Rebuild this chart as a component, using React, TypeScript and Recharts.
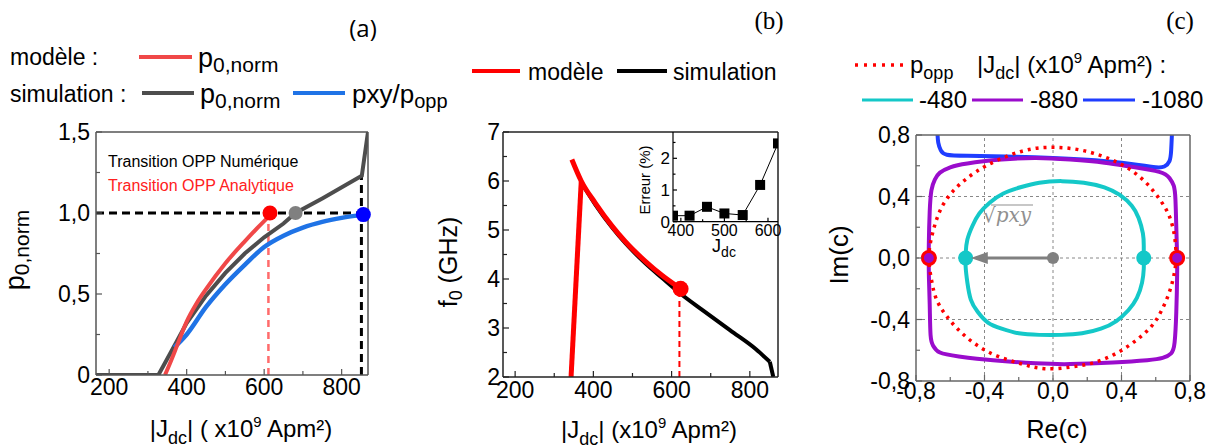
import React from "react";
import { ComposedChart, Line, XAxis, YAxis, ReferenceLine, ReferenceDot } from "recharts";

const FONT = "'Liberation Sans', Arial, sans-serif";

// (a) normalised power vs |Jdc|
const aModelJ = [344, 360, 375, 400, 425, 450, 500, 550, 600, 615];
const aModelP = [0, 0.09, 0.18, 0.33, 0.44, 0.53, 0.69, 0.825, 0.95, 0.985];
const aSimJ = [166, 327, 350, 375, 400, 450, 500, 550, 600, 650, 681, 750, 852, 868];
const aSimP = [0, 0, 0.1, 0.21, 0.32, 0.49, 0.63, 0.75, 0.85, 0.935, 1.0, 1.09, 1.23, 1.5];
const aPxyJ = [368, 400, 450, 500, 550, 600, 650, 700, 750, 800, 856];
const aPxyP = [0.17, 0.25, 0.42, 0.56, 0.68, 0.79, 0.86, 0.91, 0.945, 0.97, 0.99];
const aOppJ = [615, 681, 856]; // model, simulation, pxy/popp
const aOppP = [1.0, 1.0, 0.99];
const aModelCutJ = 611;
const aSimCornerJ = 851;
const aSimCornerP = 1.23;

// (b) frequency vs |Jdc|
const bRiseJ = [343, 369];
const bRiseF = [2, 5.99];
const bModelJ = [345, 369, 405, 448, 482, 533, 576, 623];
const bModelF = [6.44, 6.0, 5.55, 5.08, 4.76, 4.36, 4.07, 3.8];
const bSimJ = [369, 405, 448, 482, 533, 576, 623, 680, 750, 815, 851];
const bSimF = [5.97, 5.52, 5.05, 4.73, 4.32, 4.02, 3.7, 3.36, 2.95, 2.57, 2.31];
const bTailJ = [851, 860];
const bTailF = [2.31, 2.0];
const bOppJ = 623;
const bOppF = 3.8;
// inset: error (%)
const errJ = [382, 420, 460, 500, 542, 582, 623];
const errPct = [0.19, 0.19, 0.47, 0.26, 0.21, 1.16, 2.47];

// (c) orbits in the complex plane
const cOppRe = [0.72, 0.71, 0.68, 0.63, 0.56, 0.47, 0.36, 0.24, 0.12, 0.0, -0.12, -0.25, -0.39, -0.5, -0.58, -0.64, -0.68, -0.71, -0.725, -0.71, -0.68, -0.62, -0.54, -0.44, -0.32, -0.18, -0.05, 0.1, 0.24, 0.37, 0.48, 0.57, 0.63, 0.68, 0.71, 0.72];
const cOppIm = [0, 0.14, 0.27, 0.37, 0.47, 0.56, 0.63, 0.68, 0.71, 0.72, 0.71, 0.67, 0.6, 0.52, 0.44, 0.35, 0.25, 0.13, 0, -0.14, -0.27, -0.38, -0.48, -0.57, -0.64, -0.69, -0.72, -0.71, -0.68, -0.62, -0.54, -0.45, -0.35, -0.22, -0.09, 0];
const c480Re = [0.53, 0.53, 0.525, 0.5, 0.46, 0.39, 0.3, 0.18, 0.05, -0.08, -0.19, -0.29, -0.37, -0.43, -0.47, -0.5, -0.51, -0.51, -0.5, -0.48, -0.44, -0.38, -0.3, -0.2, -0.08, 0.05, 0.17, 0.28, 0.37, 0.44, 0.49, 0.52, 0.53, 0.53];
const c480Im = [0, 0.08, 0.16, 0.26, 0.34, 0.41, 0.46, 0.49, 0.5, 0.49, 0.46, 0.42, 0.36, 0.29, 0.21, 0.12, 0.03, -0.06, -0.16, -0.27, -0.35, -0.42, -0.46, -0.49, -0.5, -0.5, -0.49, -0.46, -0.41, -0.34, -0.26, -0.16, -0.07, 0];
const c880Re = [0.725, 0.72, 0.715, 0.705, 0.68, 0.62, 0.45, 0.3, 0.1, -0.1, -0.3, -0.5, -0.6, -0.66, -0.69, -0.71, -0.72, -0.725, -0.725, -0.72, -0.715, -0.7, -0.66, -0.55, -0.35, -0.1, 0.1, 0.35, 0.55, 0.64, 0.69, 0.71, 0.72, 0.725, 0.725];
const c880Im = [0, 0.2, 0.38, 0.47, 0.52, 0.56, 0.595, 0.62, 0.64, 0.65, 0.64, 0.615, 0.59, 0.555, 0.51, 0.44, 0.3, 0.1, -0.1, -0.3, -0.5, -0.57, -0.615, -0.64, -0.665, -0.685, -0.69, -0.68, -0.665, -0.65, -0.62, -0.55, -0.35, -0.1, 0];
const c1080Re = [-0.675, -0.67, -0.655, -0.62, -0.5, -0.27, 0, 0.31, 0.5, 0.6, 0.65, 0.68, 0.69, 0.695];
const c1080Im = [0.82, 0.75, 0.7, 0.672, 0.665, 0.66, 0.65, 0.63, 0.605, 0.59, 0.595, 0.63, 0.7, 0.82];
const cDotsCyanRe = [-0.51, 0.53];
const cDotsOppRe = [-0.725, 0.725];
const cArrowRe = [0, -0.45];
const cArrowIm = [0, 0];

// ticks
const jTicks = [200, 300, 400, 500, 600, 700, 800];
const jLabels = ["200", "", "400", "", "600", "", "800"];
const aPTicks = [0, 0.25, 0.5, 0.75, 1, 1.25, 1.5];
const aPLabels = ["0", "", "0,5", "", "1,0", "", "1,5"];
const bFTicks = [2, 2.5, 3, 3.5, 4, 4.5, 5, 5.5, 6, 6.5, 7];
const bFLabels = ["2", "", "3", "", "4", "", "5", "", "6", "", "7"];
const errJTicks = [400, 450, 500, 550, 600];
const errJLabels = ["400", "", "500", "", "600"];
const errTicks = [0, 0.5, 1, 1.5, 2, 2.5];
const errLabels = ["0", "", "1", "", "2", ""];
const cTicks = [-0.8, -0.6, -0.4, -0.2, 0, 0.2, 0.4, 0.6, 0.8];
const cLabels = ["-0,8", "", "-0,4", "", "0,0", "", "0,4", "", "0,8"];
const cGrid = [-0.4, 0, 0.4];

const TICK_FS = 23;

const pts = (xs: number[], ys: number[]) => xs.map((x, i) => ({ x, y: ys[i] }));

// inward ticks: major ones carry a label
function tickMaker(side: "bottom" | "left", gap: number, values: number[], labels: string[], fontSize: number, color: string, long = 6, short = 4) {
  return (p: any) => {
    const v = p.payload ? p.payload.value : NaN;
    const i = values.findIndex((t) => Math.abs(t - v) < 1e-6);
    const lab = i >= 0 ? labels[i] : "";
    const len = lab ? long : short;
    if (side === "bottom") {
      const ay = p.y - gap;
      return (
        <g>
          <line x1={p.x} x2={p.x} y1={ay} y2={ay - len} stroke={color} strokeWidth={1.2} />
          {lab ? (
            <text x={p.x} y={p.y} dy="0.72em" textAnchor="middle" fontSize={fontSize} fontFamily={FONT} fill="#000">
              {lab}
            </text>
          ) : null}
        </g>
      );
    }
    const ax = p.x + gap;
    return (
      <g>
        <line x1={ax} x2={ax + len} y1={p.y} y2={p.y} stroke={color} strokeWidth={1.2} />
        {lab ? (
          <text x={p.x} y={p.y} dy="0.36em" textAnchor="end" fontSize={fontSize} fontFamily={FONT} fill="#000">
            {lab}
          </text>
        ) : null}
      </g>
    );
  };
}

const square = (p: any) => <rect key={"sq" + p.index} x={p.cx - 5} y={p.cy - 5} width={10} height={10} fill="#000" />;

function JdcTitle({ x, y, size, spaced }: { x: number; y: number; size: number; spaced: boolean }) {
  return (
    <text x={x} y={y} fontSize={size} textAnchor="middle" fontFamily={FONT} fill="#000">
      |J
      <tspan fontSize={size * 0.75} dy={size * 0.28}>dc</tspan>
      <tspan fontSize={size} dy={-size * 0.28}>{spaced ? "| ( x10" : "| (x10"}</tspan>
      <tspan fontSize={size * 0.62} dy={-size * 0.42}>9</tspan>
      <tspan fontSize={size} dy={size * 0.42}>{" Apm²)"}</tspan>
    </text>
  );
}

// axes get a 1px band (a 0px axis is not drawn), margins are reduced by that 1px
function PanelA() {
  const ax = "#555";
  return (
    <ComposedChart width={400} height={446} margin={{ top: 131, right: 31, bottom: 70, left: 95 }}>
      <XAxis type="number" dataKey="x" domain={[166, 868]} allowDataOverflow ticks={jTicks} interval={0} height={1} tickSize={0} tickMargin={3} tickLine={false} axisLine={{ stroke: ax, strokeWidth: 1.5 }} tick={tickMaker("bottom", 3, jTicks, jLabels, TICK_FS, ax)} />
      <XAxis xAxisId="t" orientation="top" type="number" dataKey="x" domain={[166, 868]} height={1} tick={false} tickLine={false} axisLine={{ stroke: ax, strokeWidth: 1.5 }} />
      <YAxis type="number" domain={[0, 1.5]} allowDataOverflow ticks={aPTicks} interval={0} width={1} tickSize={0} tickMargin={6} tickLine={false} axisLine={{ stroke: ax, strokeWidth: 1.5 }} tick={tickMaker("left", 6, aPTicks, aPLabels, TICK_FS, ax)} />
      <YAxis yAxisId="r" orientation="right" type="number" domain={[0, 1.5]} width={1} tick={false} tickLine={false} axisLine={{ stroke: ax, strokeWidth: 1.5 }} />
      <ReferenceLine segment={[{ x: aModelCutJ, y: 0 }, { x: aModelCutJ, y: aOppP[0] }]} stroke="#ff6b6b" strokeWidth={2.5} strokeDasharray="7 5" />
      <ReferenceLine segment={[{ x: aSimCornerJ, y: 0 }, { x: aSimCornerJ, y: aSimCornerP }]} stroke="#000" strokeWidth={3} strokeDasharray="8 5" />
      <ReferenceLine segment={[{ x: 166, y: 1 }, { x: aOppJ[2], y: 1 }]} stroke="#000" strokeWidth={3} strokeDasharray="8 5" />
      <Line data={pts(aSimJ, aSimP)} dataKey="y" type="linear" stroke="#4d4d4d" strokeWidth={4} dot={false} activeDot={false} isAnimationActive={false} />
      <Line data={pts(aPxyJ, aPxyP)} dataKey="y" type="monotone" stroke="#1f73e6" strokeWidth={4.5} dot={false} activeDot={false} isAnimationActive={false} />
      <Line data={pts(aModelJ, aModelP)} dataKey="y" type="monotone" stroke="#f04848" strokeWidth={4} dot={false} activeDot={false} isAnimationActive={false} />
      <ReferenceDot x={aOppJ[0]} y={aOppP[0]} r={7.5} fill="#ff0000" stroke="none" />
      <ReferenceDot x={aOppJ[1]} y={aOppP[1]} r={7} fill="#808080" stroke="none" />
      <ReferenceDot x={aOppJ[2]} y={aOppP[2]} r={7.5} fill="#0000ff" stroke="none" />
    </ComposedChart>
  );
}

function PanelB() {
  const ax = "#222";
  return (
    <ComposedChart width={400} height={446} margin={{ top: 131, right: 21, bottom: 68, left: 102 }}>
      <XAxis type="number" dataKey="x" domain={[169, 872]} allowDataOverflow ticks={jTicks} interval={0} height={1} tickSize={0} tickMargin={4} tickLine={false} axisLine={{ stroke: ax, strokeWidth: 1.5 }} tick={tickMaker("bottom", 4, jTicks, jLabels, TICK_FS, ax)} />
      <XAxis xAxisId="t" orientation="top" type="number" dataKey="x" domain={[169, 872]} height={1} tick={false} tickLine={false} axisLine={{ stroke: ax, strokeWidth: 1.5 }} />
      <YAxis type="number" domain={[2, 7]} allowDataOverflow ticks={bFTicks} interval={0} width={1} tickSize={0} tickMargin={3} tickLine={false} axisLine={{ stroke: ax, strokeWidth: 1.5 }} tick={tickMaker("left", 3, bFTicks, bFLabels, TICK_FS, ax)} />
      <YAxis yAxisId="r" orientation="right" type="number" domain={[2, 7]} width={1} tick={false} tickLine={false} axisLine={{ stroke: ax, strokeWidth: 1.5 }} />
      <ReferenceLine segment={[{ x: bOppJ - 3, y: 2 }, { x: bOppJ - 3, y: bOppF }]} stroke="#ff0000" strokeWidth={2} strokeDasharray="6 4" />
      <Line data={pts(bSimJ, bSimF)} dataKey="y" type="monotone" stroke="#000" strokeWidth={4} dot={false} activeDot={false} isAnimationActive={false} />
      <Line data={pts(bTailJ, bTailF)} dataKey="y" type="linear" stroke="#000" strokeWidth={4} dot={false} activeDot={false} isAnimationActive={false} />
      <Line data={pts(bRiseJ, bRiseF)} dataKey="y" type="linear" stroke="#ff0000" strokeWidth={5} dot={false} activeDot={false} isAnimationActive={false} />
      <Line data={pts(bModelJ, bModelF)} dataKey="y" type="monotone" stroke="#ff0000" strokeWidth={5} dot={false} activeDot={false} isAnimationActive={false} />
      <ReferenceDot x={bOppJ} y={bOppF} r={8} fill="#ff0000" stroke="none" />
    </ComposedChart>
  );
}

function Inset() {
  const ax = "#000";
  return (
    <ComposedChart width={150} height={140} margin={{ top: 12, right: 12, bottom: 37.3, left: 32 }}>
      <XAxis type="number" dataKey="x" domain={[382, 623]} allowDataOverflow ticks={errJTicks} interval={0} height={1} tickSize={0} tickMargin={2.5} tickLine={false} axisLine={{ stroke: ax, strokeWidth: 1.2 }} tick={tickMaker("bottom", 2.5, errJTicks, errJLabels, 16, ax, 4, 2.5)} />
      <YAxis type="number" domain={[0, 2.83]} allowDataOverflow ticks={errTicks} interval={0} width={1} tickSize={0} tickMargin={3} tickLine={false} axisLine={{ stroke: ax, strokeWidth: 1.2 }} tick={tickMaker("left", 3, errTicks, errLabels, 17, ax, 4, 2.5)} />
      <Line data={pts(errJ, errPct)} dataKey="y" type="linear" stroke="#000" strokeWidth={1} dot={square} activeDot={false} isAnimationActive={false} />
    </ComposedChart>
  );
}

function PanelC() {
  const ax = "#666";
  const arrowHead = (p: any) => <polygon points={`${p.cx},${p.cy} ${p.cx + 17},${p.cy - 6} ${p.cx + 17},${p.cy + 6}`} fill="#808080" />;
  return (
    <ComposedChart width={400} height={446} margin={{ top: 134, right: 19, bottom: 64, left: 105 }}>
      <XAxis type="number" dataKey="x" domain={[-0.8, 0.8]} allowDataOverflow ticks={cTicks} interval={0} height={1} tickSize={0} tickMargin={1} tickLine={false} axisLine={{ stroke: ax, strokeWidth: 1.5 }} tick={tickMaker("bottom", 1, cTicks, cLabels, TICK_FS, ax)} />
      <XAxis xAxisId="t" orientation="top" type="number" dataKey="x" domain={[-0.8, 0.8]} height={1} tick={false} tickLine={false} axisLine={{ stroke: ax, strokeWidth: 1.5 }} />
      <YAxis type="number" domain={[-0.8, 0.8]} allowDataOverflow ticks={cTicks} interval={0} width={1} tickSize={0} tickMargin={6} tickLine={false} axisLine={{ stroke: ax, strokeWidth: 1.5 }} tick={tickMaker("left", 6, cTicks, cLabels, TICK_FS, ax)} />
      <YAxis yAxisId="r" orientation="right" type="number" domain={[-0.8, 0.8]} width={1} tick={false} tickLine={false} axisLine={{ stroke: ax, strokeWidth: 1.5 }} />
      {cGrid.map((g) => (
        <ReferenceLine key={"gx" + g} x={g} stroke="#888" strokeWidth={1} strokeDasharray="3 3" />
      ))}
      {cGrid.map((g) => (
        <ReferenceLine key={"gy" + g} y={g} stroke="#888" strokeWidth={1} strokeDasharray="3 3" />
      ))}
      <Line data={pts(c1080Re, c1080Im)} dataKey="y" type="natural" stroke="#1f3dff" strokeWidth={4} dot={false} activeDot={false} isAnimationActive={false} />
      <Line data={pts(c880Re, c880Im)} dataKey="y" type="natural" stroke="#9a0ccc" strokeWidth={4} dot={false} activeDot={false} isAnimationActive={false} />
      <Line data={pts(cOppRe, cOppIm)} dataKey="y" type="natural" stroke="#ff0000" strokeWidth={3.5} strokeDasharray="3 5" dot={false} activeDot={false} isAnimationActive={false} />
      <Line data={pts(c480Re, c480Im)} dataKey="y" type="natural" stroke="#14c8c8" strokeWidth={4} dot={false} activeDot={false} isAnimationActive={false} />
      <Line data={pts(cArrowRe, cArrowIm)} dataKey="y" type="linear" stroke="#808080" strokeWidth={3} dot={false} activeDot={false} isAnimationActive={false} />
      {cDotsCyanRe.map((re) => (
        <ReferenceDot key={"cy" + re} x={re} y={0} r={7.5} fill="#14c8c8" stroke="none" />
      ))}
      {cDotsOppRe.map((re) => (
        <ReferenceDot key={"op" + re} x={re} y={0} r={6.5} fill="#9a0ccc" stroke="#ff0000" strokeWidth={3} />
      ))}
      <ReferenceDot x={-0.48} y={0} r={1} shape={arrowHead} />
      <ReferenceDot x={0} y={0} r={6} fill="#808080" stroke="none" />
    </ComposedChart>
  );
}

function Overlay() {
  return (
    <svg width={1210} height={446} style={{ position: "absolute", left: 0, top: 0, pointerEvents: "none" }} fontFamily={FONT}>
      {/* panel titles */}
      <text x={363} y={37} fontSize={24} textAnchor="middle" fontFamily="'Open Sans', sans-serif">(a)</text>
      <text x={769} y={29} fontSize={25} textAnchor="middle" fontFamily="'Liberation Serif', serif">(b)</text>
      <text x={1180} y={29} fontSize={25} textAnchor="middle" fontFamily="'Liberation Serif', serif">(c)</text>

      {/* (a) legend */}
      <text x={10} y={65} fontSize={23}>modèle :</text>
      <line x1={139} x2={192} y1={57} y2={57} stroke="#f04848" strokeWidth={4} />
      <text x={198} y={67} fontSize={27}>
        p<tspan fontSize={21} dy={5}>0,norm</tspan>
      </text>
      <text x={10} y={102} fontSize={23}>simulation :</text>
      <line x1={142} x2={194} y1={93} y2={93} stroke="#4d4d4d" strokeWidth={4} />
      <text x={200} y={103} fontSize={27}>
        p<tspan fontSize={21} dy={5}>0,norm</tspan>
      </text>
      <line x1={293} x2={345} y1={93} y2={93} stroke="#1f73e6" strokeWidth={4} />
      <text x={352} y={103} fontSize={26}>
        pxy/p<tspan fontSize={20} dy={5}>opp</tspan>
      </text>

      {/* (a) annotations + axis titles */}
      <text x={108} y={167} fontSize={16} fill="#000">Transition OPP Numérique</text>
      <text x={108} y={191} fontSize={16} fill="#ff2020">Transition OPP Analytique</text>
      <text x={24} y={250} fontSize={27} textAnchor="middle" transform="rotate(-90 24 250)">
        p<tspan fontSize={21} dy={5}>0,norm</tspan>
      </text>
      <JdcTitle x={241} y={437} size={24} spaced={true} />

      {/* (b) legend */}
      <line x1={472} x2={520} y1={71} y2={71} stroke="#ff0000" strokeWidth={4} />
      <text x={528} y={80} fontSize={23}>modèle</text>
      <line x1={617} x2={667} y1={71} y2={71} stroke="#000" strokeWidth={4} />
      <text x={673} y={80} fontSize={23}>simulation</text>
      <text x={457} y={262} fontSize={25} textAnchor="middle" transform="rotate(-90 457 262)">
        f<tspan fontSize={18} dy={5}>0</tspan>
        <tspan fontSize={25} dy={-5}>{" (GHz)"}</tspan>
      </text>
      <JdcTitle x={649} y={438} size={24} spaced={false} />
      <text x={650} y={180} fontSize={15} textAnchor="middle" transform="rotate(-90 650 180)">Erreur (%)</text>
      <text x={724} y={252} fontSize={18} textAnchor="middle">
        J<tspan fontSize={14} dy={5}>dc</tspan>
      </text>

      {/* (c) legend */}
      <line x1={855} x2={905} y1={65} y2={65} stroke="#ff0000" strokeWidth={3.5} strokeDasharray="3 6" />
      <text x={910} y={73} fontSize={24}>
        p<tspan fontSize={18} dy={6}>opp</tspan>
      </text>
      <text x={977} y={73} fontSize={24}>
        |J<tspan fontSize={18} dy={6}>dc</tspan>
        <tspan fontSize={24} dy={-6}>| (x10</tspan>
        <tspan fontSize={15} dy={-10}>9</tspan>
        <tspan fontSize={24} dy={10}>{" Apm²) :"}</tspan>
      </text>
      <line x1={862} x2={913} y1={100} y2={100} stroke="#14c8c8" strokeWidth={3} />
      <text x={919} y={108} fontSize={24}>-480</text>
      <line x1={972} x2={1023} y1={100} y2={100} stroke="#9a0ccc" strokeWidth={3} />
      <text x={1030} y={108} fontSize={24}>-880</text>
      <line x1={1083} x2={1135} y1={100} y2={100} stroke="#1f3dff" strokeWidth={3} />
      <text x={1142} y={108} fontSize={24}>-1080</text>

      {/* (c) annotation + axis titles */}
      <text x={983} y={222} fontSize={20} fill="#909090" fontFamily="'DejaVu Serif', serif">
        √<tspan fontStyle="italic">pxy</tspan>
      </text>
      <line x1={991} x2={1033} y1={205} y2={205} stroke="#909090" strokeWidth={1.2} />
      <text x={848} y={255} fontSize={26} textAnchor="middle" transform="rotate(-90 848 255)">Im(c)</text>
      <text x={1057} y={438} fontSize={25} textAnchor="middle">Re(c)</text>
    </svg>
  );
}

export default function App() {
  return (
    <div style={{ position: "absolute", left: 0, top: 0, width: 1210, height: 446, background: "#fff", overflow: "hidden" }}>
      <div style={{ position: "absolute", left: 0, top: 0 }}>
        <PanelA />
      </div>
      <div style={{ position: "absolute", left: 400, top: 0 }}>
        <PanelB />
      </div>
      <div style={{ position: "absolute", left: 640, top: 120 }}>
        <Inset />
      </div>
      <div style={{ position: "absolute", left: 810, top: 0 }}>
        <PanelC />
      </div>
      <Overlay />
    </div>
  );
}
